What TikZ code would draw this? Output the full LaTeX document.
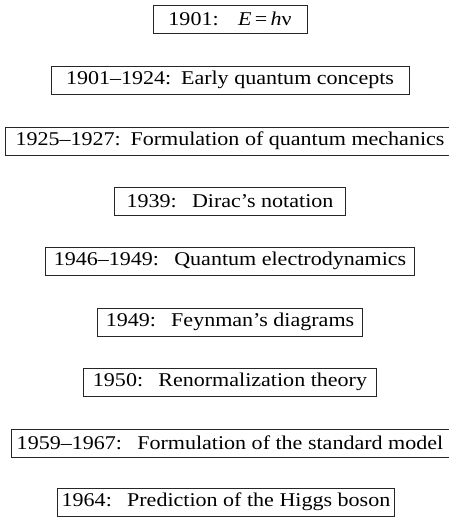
\documentclass[tikz,border=0pt]{standalone}
\usepackage{fontspec}
\setmainfont{Liberation Serif}[FakeStretch=1.13]
\usepackage{tikz}

\begin{document}
\begin{tikzpicture}[x=1pt,y=1pt,
    event/.style={draw=black!85, line width=0.8pt, minimum height=28pt,
        inner sep=0pt, font=\fontsize{19.5}{22}\selectfont}]
    \useasboundingbox (0,0) rectangle (448,-517);
    % timeline boxes, top to bottom
    \node[event, minimum width=154] (planck) at (230,-19) {1901:\quad \textit{E}\,=\,\textit{h}ν};
    \node[event, minimum width=358] (early) at (230,-80) {1901–1924:\enspace Early quantum concepts};
    \node[event, minimum width=449] (qm) at (230,-141) {1925–1927:\enspace Formulation of quantum mechanics};
    \node[event, minimum width=231] (dirac) at (230,-201) {1939:\enspace\ Dirac’s notation};
    \node[event, minimum width=369] (qed) at (230,-261) {1946–1949:\enspace\ Quantum electrodynamics};
    \node[event, minimum width=265] (feynman) at (230,-322) {1949:\enspace\ Feynman’s diagrams};
    \node[event, minimum width=293] (renorm) at (230,-382) {1950:\enspace\ Renormalization theory};
    \node[event, minimum width=438] (sm) at (230,-443) {1959–1967:\enspace\ Formulation of the standard model};
    \node[event, minimum width=337] (higgs) at (226,-502) {1964:\enspace\ Prediction of the Higgs boson};
\end{tikzpicture}
\end{document}
